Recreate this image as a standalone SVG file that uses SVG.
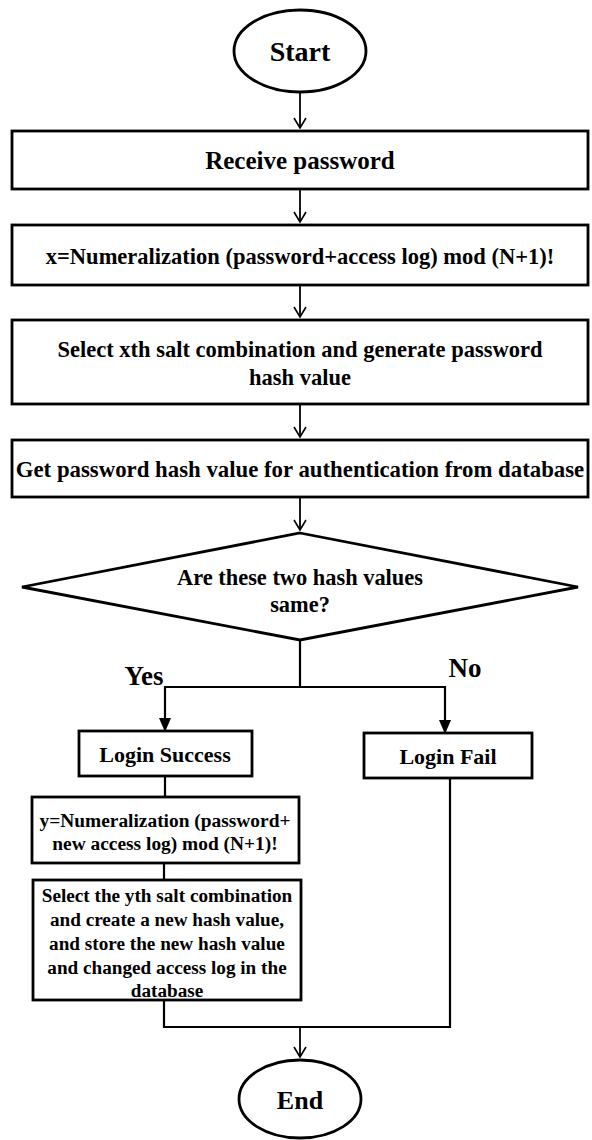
<svg xmlns="http://www.w3.org/2000/svg" width="592" height="1140" viewBox="0 0 592 1140">
<defs>
<marker id="open" viewBox="0 0 12 14" refX="11" refY="7" markerWidth="12" markerHeight="14" markerUnits="userSpaceOnUse" orient="auto">
<path d="M1,1 L11,7 L1,13" fill="none" stroke="#000" stroke-width="1.6"/>
</marker>
<style>
.box{fill:#fff;stroke:#000;stroke-width:2.8}
.t{font-family:"Liberation Serif","Times New Roman",serif;font-weight:bold;fill:#000;text-anchor:middle}
.c{fill:none;stroke:#000;stroke-width:1.8}
.ca{fill:none;stroke:#000;stroke-width:2.2}
</style>
</defs>
<rect width="592" height="1140" fill="#fff"/>
<g id="connectors">
<line class="c" x1="300" y1="93" x2="300" y2="128" marker-end="url(#open)"/>
<line class="c" x1="300" y1="190" x2="300" y2="222" marker-end="url(#open)"/>
<line class="c" x1="300" y1="286" x2="300" y2="317" marker-end="url(#open)"/>
<line class="c" x1="300" y1="405" x2="300" y2="437" marker-end="url(#open)"/>
<line class="c" x1="300" y1="498" x2="300" y2="530" marker-end="url(#open)"/>
<polyline class="ca" points="300,640 300,687 165,687 165,718"/>
<polyline class="ca" points="300,687 445,687 445,720"/>
<path d="M159,718 L171,718 L165,732 Z" fill="#000"/>
<path d="M439,720 L451,720 L445,734 Z" fill="#000"/>
<line class="ca" x1="165" y1="776" x2="165" y2="797"/>
<line class="ca" x1="164" y1="863" x2="164" y2="880"/>
<polyline class="ca" points="164,1000 164,1027 450,1027 450,778"/>
<line class="c" x1="300" y1="1027" x2="300" y2="1057" marker-end="url(#open)"/>
<text class="t" x="144" y="685" font-size="27">Yes</text>
<text class="t" x="465" y="677" font-size="27">No</text>
</g>
<g id="start">
<ellipse cx="300" cy="51" rx="66" ry="41" class="box"/>
<text class="t" x="300" y="61" font-size="28">Start</text>
</g>
<g id="receive">
<rect class="box" x="12" y="131" width="576" height="58"/>
<text class="t" x="300" y="169" font-size="25">Receive password</text>
</g>
<g id="numeralize-x">
<rect class="box" x="12" y="225" width="576" height="60"/>
<text class="t" x="300" y="264" font-size="22.5">x=Numeralization (password+access log) mod (N+1)!</text>
</g>
<g id="select-x">
<rect class="box" x="12" y="320" width="576" height="84"/>
<text class="t" x="300" y="357" font-size="22.5">Select xth salt combination and generate password</text>
<text class="t" x="300" y="385" font-size="22.5">hash value</text>
</g>
<g id="get-hash">
<rect class="box" x="12" y="440" width="576" height="57"/>
<text class="t" x="300" y="477" font-size="22.8">Get password hash value for authentication from database</text>
</g>
<g id="decision">
<polygon class="box" points="300,533 578,587 300,640 22,587"/>
<text class="t" x="300" y="585" font-size="22.4">Are these two hash values</text>
<text class="t" x="300" y="612" font-size="22.4">same?</text>
</g>
<g id="login-success">
<rect class="box" x="79" y="731" width="173" height="45"/>
<text class="t" x="165" y="762" font-size="22">Login Success</text>
</g>
<g id="login-fail">
<rect class="box" x="364" y="733" width="168" height="45"/>
<text class="t" x="448" y="764" font-size="22">Login Fail</text>
</g>
<g id="numeralize-y">
<rect class="box" x="32" y="797" width="267" height="66"/>
<text class="t" x="165" y="827" font-size="19.4">y=Numeralization (password+</text>
<text class="t" x="165" y="850" font-size="19.4">new access log) mod (N+1)!</text>
</g>
<g id="select-y">
<rect class="box" x="33" y="880" width="268" height="120"/>
<text class="t" x="167" y="902" font-size="19.2">Select the yth salt combination</text>
<text class="t" x="167" y="926" font-size="19.2">and create a new hash value,</text>
<text class="t" x="167" y="950" font-size="19.2">and store the new hash value</text>
<text class="t" x="167" y="974" font-size="19.2">and changed access log in the</text>
<text class="t" x="167" y="997" font-size="19.2">database</text>
</g>
<g id="end">
<ellipse cx="300" cy="1099" rx="61" ry="39" class="box"/>
<text class="t" x="300" y="1109" font-size="26">End</text>
</g>
</svg>
